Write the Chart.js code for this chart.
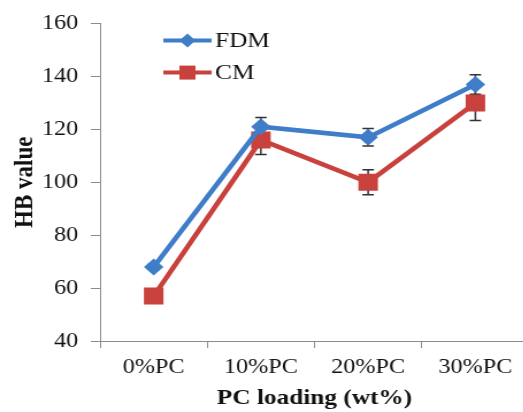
<!DOCTYPE html>
<html lang="en">
<head>
    <meta charset="UTF-8">
    <title>HB value vs PC loading</title>
    <script src="https://cdn.jsdelivr.net/npm/chart.js"></script>
    <style>
        html, body {
            margin: 0;
            padding: 0;
            background: #ffffff;
            overflow: hidden;
        }
        .wrap {
            width: 523px;
            height: 412px;
            overflow: hidden;
        }
        /* the source figure is a little wider than tall, so stretch it */
        #hbChart {
            transform: scaleX(1.15);
            transform-origin: 0 0;
        }
    </style>
</head>
<body>
    <div class="wrap">
        <canvas id="hbChart" width="472" height="412"></canvas>
    </div>

    <script>
        const categories = ['0%PC', '10%PC', '20%PC', '30%PC'];
        const fdmValues = [68, 121, 117, 137];
        const fdmErrors = [1, 3.5, 3.3, 3.7];
        const cmValues = [57, 116, 100, 130];
        const cmErrors = [1, 5.5, 4.7, 6.6];
        const yTicks = [40, 60, 80, 100, 120, 140, 160];

        const blue = '#3F7DC9';
        const red = '#C9413D';
        const serif = '"Liberation Serif", "Times New Roman", serif';

        // error bars, drawn under the markers
        const errorBars = {
            id: 'errorBars',
            beforeDatasetsDraw(chart) {
                const ctx = chart.ctx;
                const y = chart.scales.y;
                ctx.save();
                ctx.strokeStyle = '#333333';
                ctx.lineWidth = 1.5;
                chart.data.datasets.forEach((ds, i) => {
                    const meta = chart.getDatasetMeta(i);
                    meta.data.forEach((pt, j) => {
                        const v = ds.data[j];
                        const e = ds.errors[j];
                        const top = y.getPixelForValue(v + e);
                        const bottom = y.getPixelForValue(v - e);
                        ctx.beginPath();
                        ctx.moveTo(pt.x, top);
                        ctx.lineTo(pt.x, bottom);
                        ctx.moveTo(pt.x - 5, top);
                        ctx.lineTo(pt.x + 5, top);
                        ctx.moveTo(pt.x - 5, bottom);
                        ctx.lineTo(pt.x + 5, bottom);
                        ctx.stroke();
                    });
                });
                ctx.restore();
            }
        };

        // legend inside the plot: line with marker, then the label
        const insideLegend = {
            id: 'insideLegend',
            afterDraw(chart) {
                const ctx = chart.ctx;
                const area = chart.chartArea;
                const x0 = area.left + 55;
                ctx.save();
                ctx.font = '22px ' + serif;
                ctx.textBaseline = 'middle';
                chart.data.datasets.forEach((ds, i) => {
                    const yy = area.top + 17 + i * 32;
                    ctx.strokeStyle = ds.borderColor;
                    ctx.lineWidth = 4;
                    ctx.beginPath();
                    ctx.moveTo(x0, yy);
                    ctx.lineTo(x0 + 42, yy);
                    ctx.stroke();
                    ctx.fillStyle = ds.borderColor;
                    const cx = x0 + 21;
                    ctx.beginPath();
                    if (ds.pointStyle === 'rectRot') {
                        ctx.moveTo(cx - 7, yy);
                        ctx.lineTo(cx, yy - 7);
                        ctx.lineTo(cx + 7, yy);
                        ctx.lineTo(cx, yy + 7);
                        ctx.closePath();
                    } else {
                        ctx.rect(cx - 7, yy - 7, 14, 14);
                    }
                    ctx.fill();
                    ctx.fillStyle = '#111111';
                    ctx.fillText(ds.label, x0 + 45, yy + 1);
                });
                ctx.restore();
            }
        };

        const ctx = document.getElementById('hbChart').getContext('2d');
        new Chart(ctx, {
            type: 'line',
            data: {
                labels: categories,
                datasets: [{
                    label: 'FDM',
                    data: fdmValues,
                    errors: fdmErrors,
                    borderColor: blue,
                    backgroundColor: blue,
                    borderWidth: 4.5,
                    pointStyle: 'rectRot',
                    pointRadius: 8.5,
                    pointBorderWidth: 0,
                    tension: 0
                }, {
                    label: 'CM',
                    data: cmValues,
                    errors: cmErrors,
                    borderColor: red,
                    backgroundColor: red,
                    borderWidth: 4.5,
                    pointStyle: 'rect',
                    pointRadius: 12,
                    pointBorderWidth: 0,
                    tension: 0
                }]
            },
            options: {
                responsive: false,
                animation: false,
                layout: { padding: { top: 10, left: 6, right: 0, bottom: 0 } },
                plugins: {
                    legend: { display: false },
                    tooltip: { enabled: false }
                },
                scales: {
                    x: {
                        offset: true,
                        afterFit(scale) {
                            scale.height = 71;
                        },
                        grid: {
                            offset: true,
                            drawOnChartArea: false,
                            tickLength: 7,
                            color: '#8c8c8c'
                        },
                        border: { color: '#8c8c8c', width: 1 },
                        ticks: {
                            color: '#111111',
                            padding: 7,
                            maxRotation: 0,
                            font: { family: serif, size: 21 }
                        },
                        title: {
                            display: true,
                            text: 'PC loading (wt%)',
                            color: '#111111',
                            padding: { top: 4, bottom: 0 },
                            font: { family: serif, size: 22, weight: 'bold' }
                        }
                    },
                    y: {
                        min: 40,
                        max: 160,
                        afterBuildTicks(scale) {
                            scale.ticks = yTicks.map(v => ({ value: v }));
                        },
                        afterFit(scale) {
                            scale.width = 81;
                        },
                        grid: {
                            drawOnChartArea: false,
                            tickLength: 8,
                            color: '#8c8c8c'
                        },
                        border: { color: '#8c8c8c', width: 1 },
                        ticks: {
                            color: '#111111',
                            padding: 11,
                            font: { family: serif, size: 21 }
                        },
                        title: {
                            display: true,
                            text: 'HB value',
                            color: '#111111',
                            padding: { top: 2, bottom: 0 },
                            font: { family: serif, size: 23, weight: 'bold' }
                        }
                    }
                }
            },
            plugins: [errorBars, insideLegend]
        });
    </script>
</body>
</html>
